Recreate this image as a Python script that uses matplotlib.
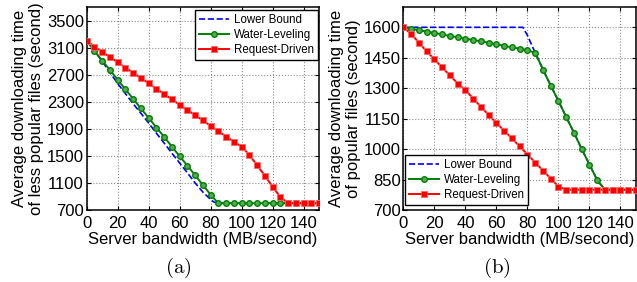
"""
Average downloading time vs server bandwidth: (a) less popular files, (b) popular files
"""
import matplotlib
matplotlib.use('Agg')
import matplotlib.pyplot as plt
import numpy as np

plt.rcParams['font.family'] = ['Liberation Sans', 'DejaVu Sans']
plt.rcParams['mathtext.fontset'] = 'cm'

# ============================================================
# data
# ============================================================
bw = list(range(0, 155, 5))

# (a) less popular files
a_lb_x = [0, 5, 10, 15, 20, 25, 30, 35, 40, 45, 50, 55, 60, 65, 70, 75, 78, 80, 82, 84, 86, 150]
a_lb_y = [3200, 3050, 2900, 2730, 2570, 2420, 2270, 2130, 1985, 1835, 1690, 1540, 1395, 1250,
          1100, 965, 900, 855, 820, 802, 800, 800]
a_water = [3200, 3050, 2907, 2769, 2625, 2482, 2344, 2200, 2062, 1919, 1781, 1637, 1495, 1356,
           1214, 1070, 927, 800, 800, 800, 800, 800, 800, 800, 800, 800, 800, 800, 800, 800, 800]
a_request = [3200, 3114, 3036, 2962, 2882, 2803, 2729, 2650, 2571, 2492, 2414, 2334, 2255, 2181,
             2102, 2023, 1944, 1866, 1786, 1712, 1637, 1515, 1362, 1208, 1045, 893, 800, 800,
             800, 800, 800]

# (b) popular files
b_lb_x = [0, 20, 40, 60, 77, 80, 82, 85, 90, 95, 100, 105, 110, 115, 120, 125, 130, 150]
b_lb_y = [1600, 1600, 1600, 1600, 1600, 1560, 1525, 1475, 1392, 1313, 1237, 1158, 1081, 1000,
          924, 847, 800, 800]
b_water = [1600, 1593, 1585, 1579, 1572, 1565, 1557, 1551, 1544, 1537, 1531, 1524, 1516, 1509,
           1501, 1495, 1486, 1475, 1392, 1313, 1237, 1158, 1081, 1000, 924, 847, 800, 800, 800,
           800, 800]
b_request = [1600, 1567, 1524, 1481, 1442, 1402, 1363, 1323, 1290, 1249, 1208, 1168, 1128, 1090,
             1053, 1013, 973, 934, 894, 855, 815, 800, 800, 800, 800, 800, 800, 800, 800, 800, 800]

labels = ['Lower Bound', 'Water-Leveling', 'Request-Driven']
a_yticks = [700, 1100, 1500, 1900, 2300, 2700, 3100, 3500]
b_yticks = [700, 850, 1000, 1150, 1300, 1450, 1600]
xticks = [0, 20, 40, 60, 80, 100, 120, 140]

# ============================================================
# figure
# ============================================================
fig = plt.figure(figsize=(6.37, 2.82), dpi=100)
ax1 = fig.add_axes([0.1361, 0.2553, 0.3647, 0.7199])
ax2 = fig.add_axes([0.6334, 0.2553, 0.365, 0.7199])


def draw(ax, lb_x, lb_y, water, request, yticks, ylim, ylabel):
    ax.plot(lb_x, lb_y, '--', color='#0000ff', linewidth=1.2, label=labels[0], zorder=2)
    ax.plot(bw, water, 'o-', color='#008000', linewidth=1.4, markersize=4,
            markerfacecolor='#55aa55', markeredgecolor='#008000', markeredgewidth=1.0,
            label=labels[1], zorder=3)
    ax.plot(bw, request, 's-', color='#ff0000', linewidth=1.4, markersize=4,
            markerfacecolor='#ff0000', markeredgecolor='#ff6666', markeredgewidth=0.6,
            label=labels[2], zorder=4)
    ax.set_xlim(0, 150)
    ax.set_ylim(*ylim)
    ax.set_xticks(xticks)
    ax.set_yticks(yticks)
    ax.tick_params(direction='in', length=3, labelsize=12, width=0.8, top=True, right=True)
    ax.tick_params(axis='x', pad=4)
    ax.tick_params(axis='y', pad=2)
    ax.grid(True, linestyle=':', color='0.55', linewidth=0.8)
    for s in ax.spines.values():
        s.set_linewidth(1.1)
    ax.set_xlabel('Server bandwidth (MB/second)', fontsize=12, labelpad=1)
    ax.set_ylabel(ylabel, fontsize=12, labelpad=2, linespacing=1.15)


draw(ax1, a_lb_x, a_lb_y, a_water, a_request, a_yticks, (700, 3700),
     'Average downloading time\nof less popular files (second)')
draw(ax2, b_lb_x, b_lb_y, b_water, b_request, b_yticks, (700, 1700),
     'Average downloading time\nof popular files (second)')

leg_kw = dict(fontsize=8.3, fancybox=False, edgecolor='black', framealpha=1,
              borderaxespad=0, handlelength=2.6, handletextpad=0.4, labelspacing=0.25,
              borderpad=0.35)
l1 = ax1.legend(loc='upper right', bbox_to_anchor=(0.995, 0.985), **leg_kw)
l2 = ax2.legend(loc='lower left', bbox_to_anchor=(0.008, 0.025), **leg_kw)
for l in (l1, l2):
    l.get_frame().set_linewidth(1.0)

fig.text(178 / 637, 1 - 268 / 282, r'$\mathrm{(a)}$', fontsize=15, ha='center', va='center')
fig.text(497 / 637, 1 - 268 / 282, r'$\mathrm{(b)}$', fontsize=15, ha='center', va='center')

fig.savefig('out.png', dpi=100)
plt.close()
print("Saved: out.png")
